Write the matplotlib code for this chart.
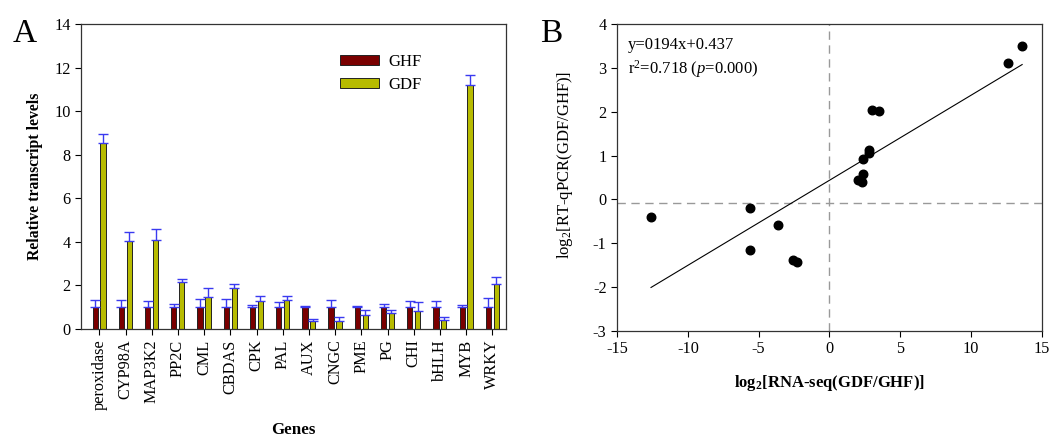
import numpy as np
import matplotlib
matplotlib.use("Agg")
import matplotlib.pyplot as plt

plt.rcParams['font.family'] = ['Liberation Serif', 'DejaVu Serif']
plt.rcParams['mathtext.fontset'] = 'custom'
plt.rcParams['mathtext.rm'] = 'Liberation Serif'
plt.rcParams['mathtext.it'] = 'Liberation Serif:italic'
plt.rcParams['mathtext.bf'] = 'Liberation Serif:bold'
plt.rcParams['axes.unicode_minus'] = False

# Panel A: relative transcript levels
genes = ["peroxidase", "CYP98A", "MAP3K2", "PP2C", "CML", "CBDAS", "CPK", "PAL",
         "AUX", "CNGC", "PME", "PG", "CHI", "bHLH", "MYB", "WRKY"]
ghf = [1, 1, 1, 1, 1, 1, 1, 1, 1, 1, 1, 1, 1, 1, 1, 1]
ghf_err = [0.31, 0.34, 0.28, 0.13, 0.39, 0.38, 0.10, 0.22,
           0.07, 0.31, 0.04, 0.13, 0.27, 0.30, 0.09, 0.42]
gdf = [8.53, 4.02, 4.08, 2.15, 1.47, 1.86, 1.28, 1.33,
       0.35, 0.37, 0.64, 0.75, 0.84, 0.41, 11.2, 2.06]
gdf_err = [0.43, 0.44, 0.49, 0.13, 0.39, 0.19, 0.25, 0.18,
           0.11, 0.16, 0.25, 0.11, 0.38, 0.12, 0.45, 0.31]

# Panel B: RNA-seq vs RT-qPCR log2 ratios
rnaseq = [-12.6, -5.6, -5.6, -3.6, -2.6, -2.3, 2.0, 2.3,
          2.4, 2.4, 2.8, 2.8, 3.0, 3.5, 12.6, 13.6]
qpcr = [-0.40, -0.20, -1.15, -0.58, -1.37, -1.42, 0.44, 0.40,
        0.57, 0.92, 1.07, 1.12, 2.05, 2.02, 3.10, 3.50]
slope, intercept = 0.194, 0.437

fig = plt.figure(figsize=(10.64, 4.38), dpi=100)

# ---- A ----
ax1 = fig.add_axes([0.0761, 0.2489, 0.3995, 0.6963])
x = np.arange(len(genes))
w = 0.2
ax1.bar(x - 0.155, ghf, w, color='#7a0000', edgecolor='#222222', linewidth=0.7,
        label='GHF', zorder=2)
ax1.bar(x + 0.145, gdf, w, color='#b7bb00', edgecolor='#222222', linewidth=0.7,
        label='GDF', zorder=2)
ax1.errorbar(x - 0.155, ghf, yerr=[np.zeros(len(x)), ghf_err], fmt='none',
             ecolor='#3a3af0', elinewidth=1, capsize=3.5, capthick=1, zorder=3)
ax1.errorbar(x + 0.145, gdf, yerr=[np.zeros(len(x)), gdf_err], fmt='none',
             ecolor='#3a3af0', elinewidth=1, capsize=3.5, capthick=1, zorder=3)
ax1.set_xlim(-0.7, 15.52)
ax1.set_ylim(0, 14)
ax1.set_yticks(range(0, 15, 2))
ax1.set_xticks(x)
ax1.set_xticklabels(genes, rotation=90, fontsize=11.7)
ax1.tick_params(axis='y', labelsize=11.7, direction='out', length=4)
ax1.tick_params(axis='x', direction='out', length=4)
ax1.set_ylabel('Relative transcript levels', fontsize=11.3, fontweight='bold')
ax1.yaxis.set_label_coords(-0.09, 0.5)
ax1.set_xlabel('Genes', fontsize=12.2, fontweight='bold')
ax1.xaxis.set_label_coords(0.5, -0.305)
ax1.legend(loc='upper left', bbox_to_anchor=(0.575, 0.95), frameon=False,
           fontsize=12, handlelength=2.3, handleheight=0.55, labelspacing=0.4,
           handletextpad=0.6)
fig.text(0.012, 0.905, 'A', fontsize=24)

# ---- B ----
ax2 = fig.add_axes([0.5799, 0.2443, 0.3994, 0.7009])
ax2.axhline(-0.08, color='#999999', linestyle=(0, (6, 4)), linewidth=1, zorder=1)
ax2.axvline(0, color='#999999', linestyle=(0, (6, 4)), linewidth=1, zorder=1)
xl = np.array([min(rnaseq), max(rnaseq)])
ax2.plot(xl, slope * xl + intercept, color='black', linewidth=0.8, zorder=2)
ax2.scatter(rnaseq, qpcr, s=38, color='black', zorder=3)
ax2.set_xlim(-15, 15)
ax2.set_ylim(-3, 4)
ax2.set_xticks(range(-15, 16, 5))
ax2.set_yticks(range(-3, 5))
ax2.tick_params(labelsize=11.7, direction='out', length=4)
ax2.text(0.026, 0.93, 'y=0194x+0.437', transform=ax2.transAxes, fontsize=12, va='center')
ax2.text(0.026, 0.853, r'r$^2$=0.718 ($p$=0.000)', transform=ax2.transAxes,
         fontsize=12, va='center')
ax2.set_xlabel(r'$\mathbf{log_2}$[RNA-seq(GDF/GHF)]', fontsize=12,
               fontweight='bold')
ax2.xaxis.set_label_coords(0.5, -0.138)
ax2.set_ylabel(r'log$_2$[RT-qPCR(GDF/GHF)]', fontsize=12)
ax2.yaxis.set_label_coords(-0.1, 0.54)
fig.text(0.508, 0.905, 'B', fontsize=24)

for ax in (ax1, ax2):
    for s in ax.spines.values():
        s.set_color('#333333')
        s.set_linewidth(0.9)

fig.savefig('out.png', dpi=100)
